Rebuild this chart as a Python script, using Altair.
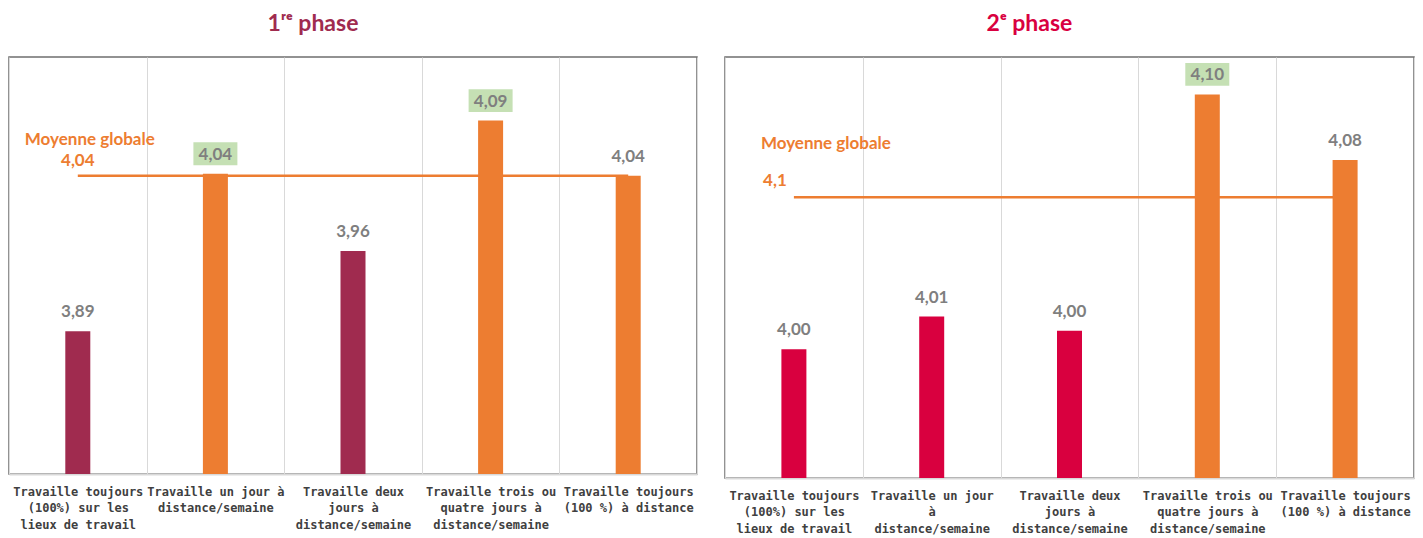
import altair as alt
import pandas as pd

# ---------- data ----------
cats1 = [
    "Travaille toujours|(100%) sur les|lieux de travail",
    "Travaille un jour à|distance/semaine",
    "Travaille deux|jours à|distance/semaine",
    "Travaille trois ou|quatre jours à|distance/semaine",
    "Travaille toujours|(100 %) à distance",
]
vals1 = [3.887, 4.038, 3.964, 4.089, 4.036]
text1 = ["3,89", "4,04", "3,96", "4,09", "4,04"]
colors1 = ["#A02B4F", "#ED7D31", "#A02B4F", "#ED7D31", "#ED7D31"]
highlight1 = [False, True, False, True, False]
mean1 = 4.036
mean1_text = "4,04"
domain1 = [3.75, 4.15]

cats2 = [
    "Travaille toujours|(100%) sur les|lieux de travail",
    "Travaille un jour|à|distance/semaine",
    "Travaille deux|jours à|distance/semaine",
    "Travaille trois ou|quatre jours à|distance/semaine",
    "Travaille toujours|(100 %) à distance",
]
vals2 = [3.995, 4.009, 4.003, 4.104, 4.076]
text2 = ["4,00", "4,01", "4,00", "4,10", "4,08"]
colors2 = ["#D9003F", "#D9003F", "#D9003F", "#ED7D31", "#ED7D31"]
highlight2 = [False, False, False, True, False]
mean2 = 4.06
mean2_text = "4,1"
domain2 = [3.94, 4.12]

ORANGE = "#ED7D31"


def panel(cats, vals, texts, colors, hl, mean, mean_text, domain, title,
          title_color, width, height, mg_dx, mg_dy, mv_dx, mv_dy):
    df = pd.DataFrame({"cat": cats, "val": vals, "txt": texts, "col": colors, "hl": hl})
    mdf = pd.DataFrame({"cat": [cats[0], cats[-1]], "val": [mean, mean]})
    ldf = pd.DataFrame({"cat": [cats[0]], "val": [mean]})

    x = alt.X(
        "cat:N",
        sort=cats,
        scale=alt.Scale(paddingInner=0, paddingOuter=0),
        axis=alt.Axis(
            title=None,
            labelAngle=0,
            labelExpr="split(datum.label, '|')",
            labelFont="DejaVu Sans Mono",
            labelFontSize=12,
            labelFontWeight="bold",
            labelColor="#404040",
            labelLineHeight=16.5,
            labelPadding=12,
            labelLimit=0,
            labelOverlap=False,
            ticks=False,
            domainColor="#D9D9D9",
            domainWidth=2,
            grid=True,
            gridColor="#D9D9D9",
            gridWidth=1,
            tickBand="extent",
        ),
    )
    y = alt.Y("val:Q", scale=alt.Scale(domain=domain, zero=False, nice=False), axis=None)

    line = alt.Chart(mdf).mark_line(color=ORANGE, strokeWidth=2.5).encode(x=x, y=y)
    bars = alt.Chart(df).mark_bar(size=25).encode(
        x=x, y=y, y2=alt.datum(domain[0]), color=alt.Color("col:N", scale=None)
    )
    boxes = alt.Chart(df).transform_filter("datum.hl").mark_point(
        shape="M-1,-0.52H1V0.52H-1Z", size=44 * 44, filled=True,
        fill="#C5E0B4", opacity=1, yOffset=-20,
    ).encode(x=x, y=y)
    vtext = alt.Chart(df).mark_text(
        font="Lato", fontWeight="bold", fontSize=17, color="#7F7F7F",
        baseline="middle", dy=-19,
    ).encode(x=x, y=y, text="txt:N")
    mg = alt.Chart(ldf).mark_text(
        text="Moyenne globale", font="Lato", fontWeight="bold", fontSize=17,
        color=ORANGE, align="left", baseline="middle", dx=mg_dx, dy=mg_dy,
    ).encode(x=x, y=y)
    mv = alt.Chart(ldf).mark_text(
        text=mean_text, font="Lato", fontWeight="bold", fontSize=17,
        color=ORANGE, align="center", baseline="middle", dx=mv_dx, dy=mv_dy,
    ).encode(x=x, y=y)

    return alt.layer(line, bars, boxes, vtext, mg, mv).properties(
        width=width,
        height=height,
        title=alt.TitleParams(
            text=title, font="Lato", fontSize=23, fontWeight="bold",
            color=title_color, anchor="middle", dx=-40, offset=21,
        ),
    )


left = panel(cats1, vals1, text1, colors1, highlight1, mean1, mean1_text, domain1,
             "1ʳᵉ phase", "#A02B4F", 688, 417, -53, -36, 0, -15)
right = panel(cats2, vals2, text2, colors2, highlight2, mean2, mean2_text, domain2,
              "2ᵉ phase", "#D9003F", 689, 421, -33, -53, -19, -16)

chart = alt.hconcat(left, right, spacing=26).properties(
    padding={"left": 0, "top": 4, "right": 0, "bottom": 0}
).configure_view(stroke="#6F6F6F", strokeWidth=1.5)

chart.save("out.html", embed_options={"renderer": "svg", "actions": False})
